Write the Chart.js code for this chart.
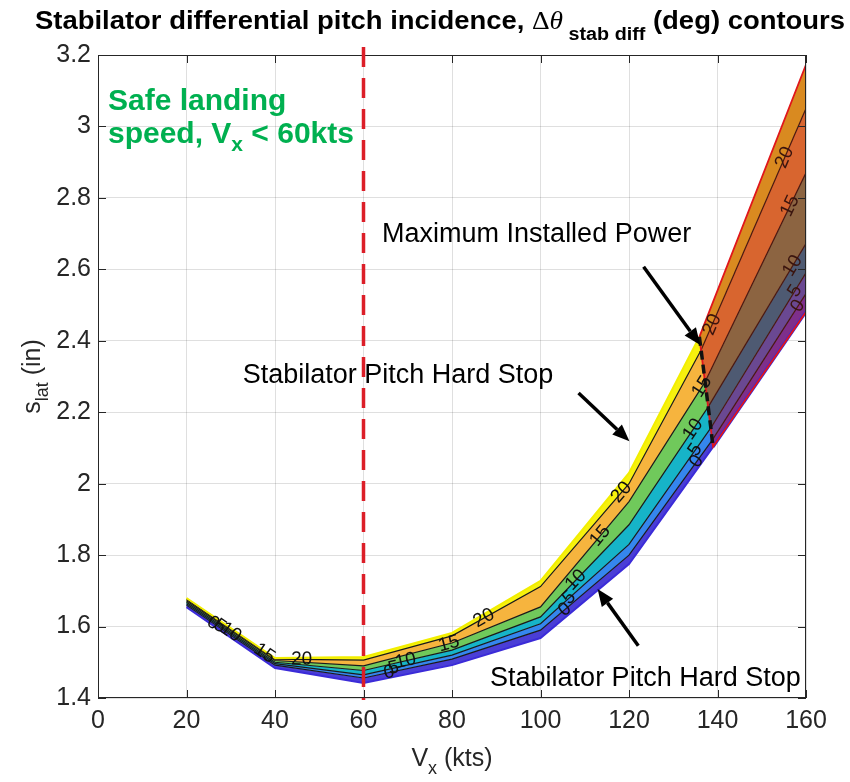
<!DOCTYPE html>
<html>
<head>
<meta charset="utf-8">
<script src="https://cdn.jsdelivr.net/npm/chart.js@4.4.1/dist/chart.umd.min.js"></script>
<style>
  html, body { margin: 0; padding: 0; background: #fff; }
  canvas { display: block; }
</style>
</head>
<body>
<canvas id="myChart" width="850" height="782"></canvas>
<script>
// speed sweep (kts) and s_lat (in) of each contour line along it
const speeds = [20, 40, 60, 80, 100, 120];
const sTop = [1.680, 1.512, 1.515, 1.582, 1.728, 2.030];
const s20  = [1.676, 1.509, 1.506, 1.574, 1.712, 2.000];
const s15  = [1.672, 1.505, 1.490, 1.554, 1.655, 1.950];
const s10  = [1.668, 1.500, 1.477, 1.534, 1.627, 1.885];
const s5   = [1.664, 1.496, 1.465, 1.520, 1.608, 1.830];
const s0   = [1.660, 1.492, 1.456, 1.509, 1.590, 1.800];
const sBot = [1.654, 1.484, 1.442, 1.492, 1.568, 1.775];

// where each line crosses the max installed power limit
const powerV = [135.9, 136.3, 137.2, 137.9, 138.5, 138.8, 139.0];
const powerS = [2.411, 2.374, 2.285, 2.215, 2.156, 2.122, 2.103];

// values at the right edge
const edgeV = 160;
const edgeS = [3.173, 3.050, 2.870, 2.672, 2.590, 2.532, 2.481];

const levels = [20, 15, 10, 5, 0];

// contour labels: level and the speed where each one sits on its line
const labelLevel = [0, 5, 10, 15, 20, 0, 5, 10, 15, 20, 0, 5, 10, 15, 20, 0, 5, 10, 15, 20, 20, 15, 10, 5, 0];
const labelV = [26, 27.5, 30, 37.6, 46, 65.8, 66.8, 69.5, 79.3, 87.2, 105.5, 106.5, 108, 113.5, 118.3,
                135.3, 135, 134.5, 136.5, 138.8, 155.2, 156.4, 157, 157.5, 158.2];

const xTicks = [0, 160, 20];
const yTicks = [1.4, 3.2, 0.2];

const lineS = [sTop, s20, s15, s10, s5, s0, sBot];
const leftFill = ['#F7F10E', '#F6B43E', '#70C95B', '#16B4C8', '#3586EE', '#4A3ED6'];
const rightFill = ['#D98A20', '#D8652F', '#8C6441', '#4E5A72', '#6A4892', '#7E2F8B'];

const FONT = '"Liberation Sans", Arial, sans-serif';

const pts = (xs, ys) => xs.map((x, k) => ({ x, y: ys[k] }));
const leftLine = i => pts(speeds, lineS[i]).concat([{ x: powerV[i], y: powerS[i] }]);
const rightLine = i => [{ x: powerV[i], y: powerS[i] }, { x: edgeV, y: edgeS[i] }];
const fullLine = i => leftLine(i).concat([{ x: edgeV, y: edgeS[i] }]);
const band = (a, b) => a.concat(b.slice().reverse());

const datasets = [];
for (let i = 0; i < 6; i++) {
  datasets.push({ data: band(leftLine(i), leftLine(i + 1)), fill: 'shape',
    backgroundColor: leftFill[i], borderColor: 'rgba(0,0,0,0)', borderWidth: 0, order: 10 });
  datasets.push({ data: band(rightLine(i), rightLine(i + 1)), fill: 'shape',
    backgroundColor: rightFill[i], borderColor: 'rgba(0,0,0,0)', borderWidth: 0, order: 10 });
}
for (let i = 0; i < 7; i++) {
  const edge = i === 0 || i === 6;
  datasets.push({ data: leftLine(i), borderColor: i === 0 ? '#F2EE00' : i === 6 ? '#3B2BD8' : '#1A1A1A',
    borderWidth: edge ? 2 : 1.2, order: 5 });
  if (!edge) datasets.push({ data: rightLine(i), borderColor: '#4A1710', borderWidth: 1.2, order: 5 });
}
datasets.push({ data: rightLine(6), borderColor: '#2A2AE8', borderWidth: 3, order: 4 });
// outline of the region past the power limit
datasets.push({ data: [
    { x: powerV[0], y: powerS[0] }, { x: edgeV, y: edgeS[0] }, { x: edgeV, y: edgeS[6] },
    { x: powerV[6], y: powerS[6] }, { x: powerV[0], y: powerS[0] }],
  borderColor: '#E0161B', borderWidth: 1.8, order: 3 });
// max installed power limit
datasets.push({ data: pts(powerV, powerS), borderColor: '#111', borderWidth: 3.5, borderDash: [9, 5], order: 2 });

function runs(ctx, parts) {
  let w = 0;
  for (const p of parts) { ctx.font = p[1]; w += ctx.measureText(p[0]).width; }
  return w;
}
function drawRuns(ctx, parts, x, y, sx) {
  ctx.save();
  ctx.translate(x, y);
  ctx.scale(sx || 1, 1);
  let cx = 0;
  for (const [t, f, dy] of parts) {
    ctx.font = f;
    ctx.fillText(t, cx, dy || 0);
    cx += ctx.measureText(t).width;
  }
  ctx.restore();
}
function arrow(ctx, x0, y0, x1, y1) {
  const a = Math.atan2(y1 - y0, x1 - x0), len = 17, half = 7;
  const bx = x1 - len * Math.cos(a), by = y1 - len * Math.sin(a);
  ctx.beginPath(); ctx.moveTo(x0, y0); ctx.lineTo(bx, by); ctx.stroke();
  ctx.beginPath(); ctx.moveTo(x1, y1);
  ctx.lineTo(bx + half * Math.sin(a), by - half * Math.cos(a));
  ctx.lineTo(bx - half * Math.sin(a), by + half * Math.cos(a));
  ctx.closePath(); ctx.fill();
}

const decorations = {
  id: 'decorations',
  afterDatasetsDraw(chart) {
    const { ctx, scales: { x, y } } = chart;
    ctx.save();
    ctx.font = '19px ' + FONT;
    ctx.textAlign = 'center';
    ctx.textBaseline = 'middle';
    labelLevel.forEach((lvl, k) => {
      const i = levels.indexOf(lvl) + 1;
      const line = fullLine(i).map(p => [x.getPixelForValue(p.x), y.getPixelForValue(p.y)]);
      const px = x.getPixelForValue(labelV[k]);
      let j = 0;
      while (j < line.length - 2 && line[j + 1][0] < px) j++;
      const [x0, y0] = line[j], [x1, y1] = line[j + 1];
      const py = y0 + (px - x0) / (x1 - x0) * (y1 - y0);
      ctx.save();
      ctx.translate(px, py);
      ctx.rotate(Math.atan2(y1 - y0, x1 - x0));
      ctx.fillStyle = labelV[k] > powerV[i] ? '#3A140E' : '#111';
      ctx.fillText(String(lvl), 0, 0);
      ctx.restore();
    });
    ctx.restore();
  },
  afterDraw(chart) {
    const { ctx, chartArea: a, scales: { x, y } } = chart;
    ctx.save();
    // axes box with inward ticks
    ctx.strokeStyle = '#262626';
    ctx.lineWidth = 1;
    ctx.strokeRect(a.left + 0.5, a.top + 0.5, a.right - a.left - 1, a.bottom - a.top - 1);
    ctx.beginPath();
    x.ticks.forEach(t => {
      const px = Math.round(x.getPixelForValue(t.value)) + 0.5;
      ctx.moveTo(px, a.bottom); ctx.lineTo(px, a.bottom - 8);
      ctx.moveTo(px, a.top); ctx.lineTo(px, a.top + 8);
    });
    y.ticks.forEach(t => {
      const py = Math.round(y.getPixelForValue(t.value)) + 0.5;
      ctx.moveTo(a.left, py); ctx.lineTo(a.left + 8, py);
      ctx.moveTo(a.right, py); ctx.lineTo(a.right - 8, py);
    });
    ctx.stroke();

    // safe landing speed limit
    const x60 = x.getPixelForValue(60);
    ctx.strokeStyle = '#DC1E28';
    ctx.lineWidth = 3.5;
    ctx.setLineDash([20, 11]);
    ctx.beginPath(); ctx.moveTo(x60, a.top - 8); ctx.lineTo(x60, a.bottom + 2); ctx.stroke();
    ctx.setLineDash([]);

    // callout arrows
    ctx.strokeStyle = '#000';
    ctx.fillStyle = '#000';
    ctx.lineWidth = 3.5;
    const P = (v, s) => [x.getPixelForValue(v), y.getPixelForValue(s)];
    arrow(ctx, ...P(123.3, 2.607), ...P(136.1, 2.388));
    arrow(ctx, ...P(108.6, 2.254), ...P(120.1, 2.119));
    arrow(ctx, ...P(122.1, 1.546), ...P(112.9, 1.705));

    // callout text
    ctx.textBaseline = 'alphabetic';
    ctx.textAlign = 'left';
    ctx.font = '27px ' + FONT;
    ctx.fillText('Maximum Installed Power', ...P(64.2, 2.677));
    ctx.fillText('Stabilator Pitch Hard Stop', ...P(32.7, 2.282));
    ctx.fillText('Stabilator Pitch Hard Stop', ...P(88.6, 1.434));

    ctx.fillStyle = '#00B050';
    ctx.font = 'bold 30px ' + FONT;
    ctx.fillText('Safe landing', ...P(2.25, 3.046));
    const [gx, gy] = P(2.25, 2.954);
    drawRuns(ctx, [['speed, V', 'bold 30px ' + FONT], ['x', 'bold 21px ' + FONT, 8],
      [' < 60kts', 'bold 30px ' + FONT]], gx, gy);

    // title
    ctx.fillStyle = '#000';
    const title = [
      ['Stabilator differential pitch incidence, ', 'bold 25px ' + FONT],
      ['\u0394', '25px "Liberation Serif", serif'],
      ['\u03B8', 'italic 25px "Liberation Serif", serif'],
      [' stab diff', 'bold 18px ' + FONT, 11],
      [' (deg) contours', 'bold 25px ' + FONT]
    ];
    const tw = runs(ctx, title);
    drawRuns(ctx, title, 35, 29, 810 / tw);

    // axis titles
    ctx.fillStyle = '#262626';
    const xt = [['V', '25px ' + FONT], ['x', '18px ' + FONT, 8], [' (kts)', '25px ' + FONT]];
    drawRuns(ctx, xt, (a.left + a.right) / 2 - runs(ctx, xt) / 2, 766);
    const yt = [['s', '25px ' + FONT], ['lat', '18px ' + FONT, 8], [' (in)', '25px ' + FONT]];
    ctx.translate(40, (a.top + a.bottom) / 2);
    ctx.rotate(-Math.PI / 2);
    drawRuns(ctx, yt, -runs(ctx, yt) / 2, 0);
    ctx.restore();
  }
};

new Chart(document.getElementById('myChart').getContext('2d'), {
  type: 'scatter',
  data: { datasets },
  options: {
    responsive: false,
    animation: false,
    events: [],
    datasets: { scatter: { showLine: true, pointRadius: 0, tension: 0 } },
    layout: { padding: { top: 55, right: 44, left: 0, bottom: 0 } },
    plugins: { legend: { display: false }, tooltip: { enabled: false } },
    scales: {
      x: {
        type: 'linear', min: xTicks[0], max: xTicks[1],
        ticks: { stepSize: xTicks[2], color: '#262626', font: { family: FONT, size: 25 }, padding: 8, maxRotation: 0 },
        grid: { color: 'rgba(38,38,38,0.15)', drawTicks: false },
        border: { display: false },
        afterFit(s) { s.height = 84; }
      },
      y: {
        type: 'linear', min: yTicks[0], max: yTicks[1],
        ticks: { stepSize: yTicks[2], color: '#262626', font: { family: FONT, size: 25 }, padding: 7,
          callback: v => String(+v.toFixed(1)) },
        grid: { color: 'rgba(38,38,38,0.15)', drawTicks: false },
        border: { display: false },
        afterFit(s) { s.width = 98; }
      }
    }
  },
  plugins: [decorations]
});
</script>
</body>
</html>
